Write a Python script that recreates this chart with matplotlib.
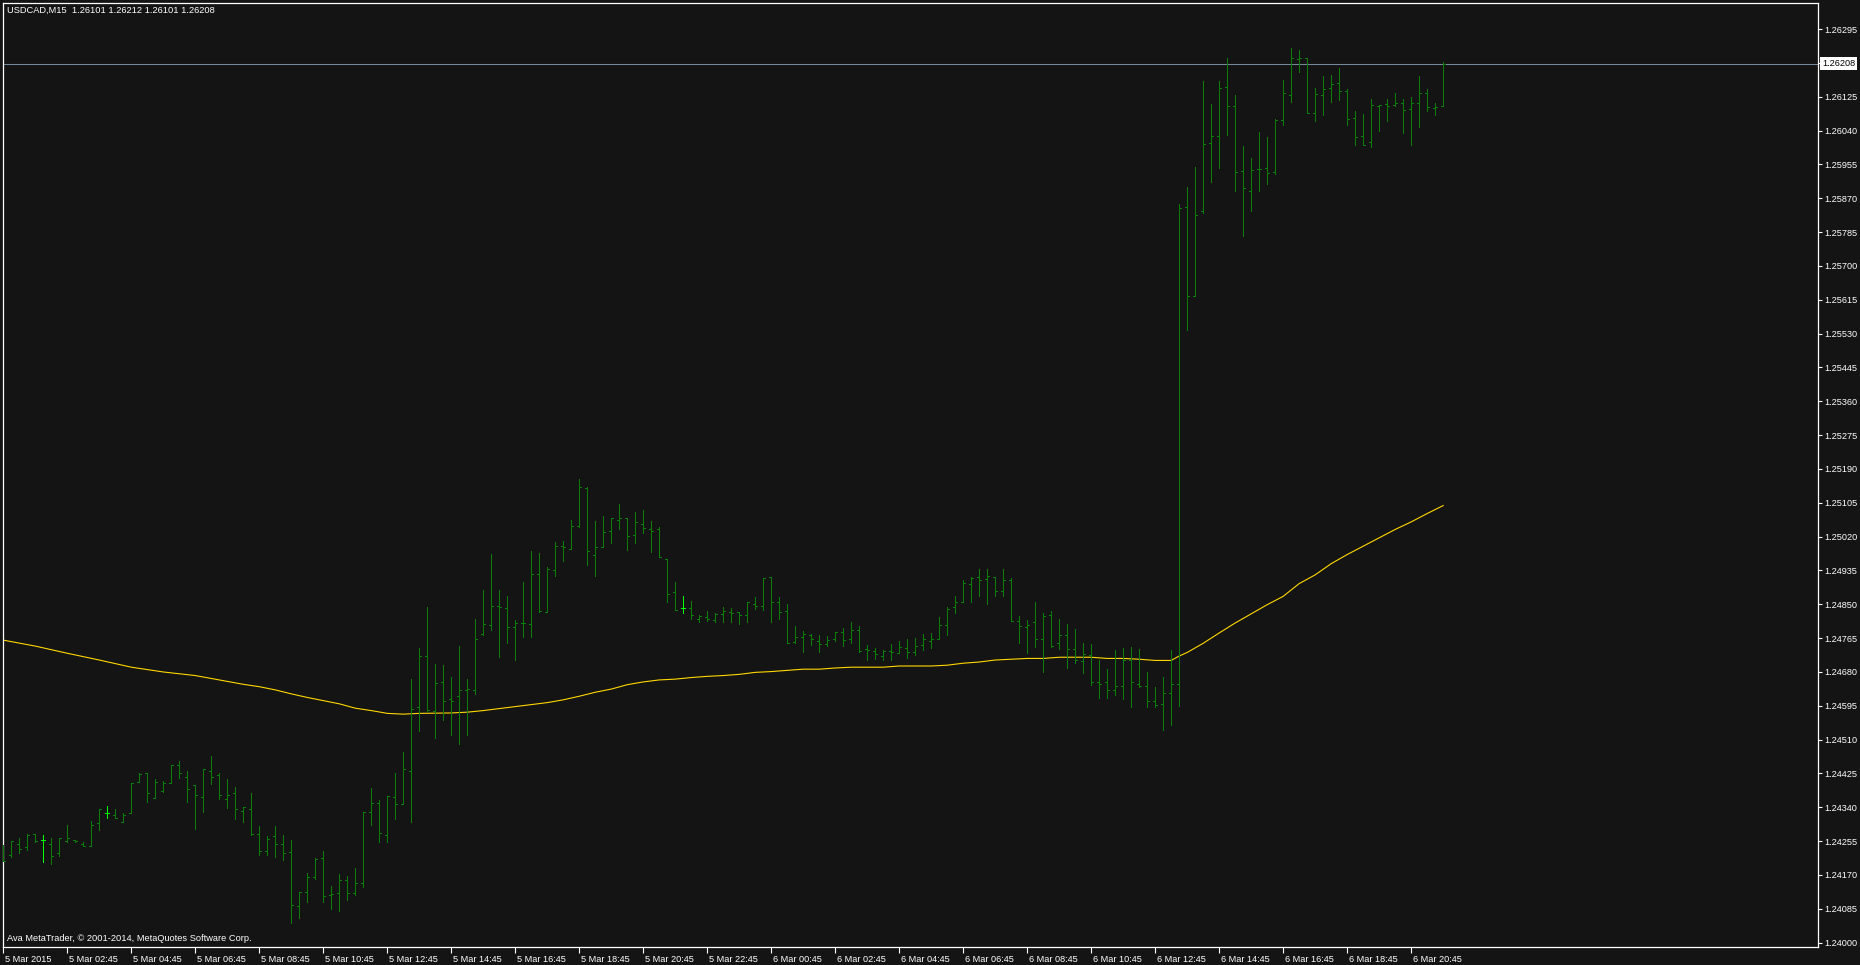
# USDCAD M15 bar chart, MetaTrader look
import numpy as np
import pandas as pd
import matplotlib
matplotlib.use('Agg')
import matplotlib.pyplot as plt
from matplotlib.transforms import blended_transform_factory, ScaledTranslation

plt.rcParams['font.family'] = ['Liberation Sans', 'DejaVu Sans']

# ---- data ----
opens = [
    1.24241, 1.24220, 1.24249, 1.24239, 1.24274, 1.24259, 1.24249, 1.24224, 1.24255, 1.24259,
    1.24249, 1.24244, 1.24300, 1.24326, 1.24321, 1.24304, 1.24325, 1.24404, 1.24427, 1.24364,
    1.24381, 1.24400, 1.24446, 1.24417, 1.24396, 1.24365, 1.24431, 1.24421, 1.24361, 1.24375,
    1.24331, 1.24336, 1.24272, 1.24229, 1.24268, 1.24247, 1.24227, 1.24091, 1.24127, 1.24166,
    1.24212, 1.24120, 1.24124, 1.24157, 1.24124, 1.24149, 1.24328, 1.24350, 1.24270, 1.24365,
    1.24348, 1.24430, 1.24592, 1.24720, 1.24582, 1.24655, 1.24612, 1.24619, 1.24634, 1.24634,
    1.24775, 1.24798, 1.24845, 1.24840, 1.24793, 1.24802, 1.24800, 1.24926, 1.24830, 1.24936,
    1.24996, 1.24990, 1.25046, 1.25142, 1.24974, 1.24994, 1.25033, 1.25063, 1.25066, 1.25023,
    1.25053, 1.25038, 1.25038, 1.24963, 1.24880, 1.24840, 1.24840, 1.24812, 1.24817, 1.24810,
    1.24825, 1.24830, 1.24830, 1.24822, 1.24852, 1.24845, 1.24918, 1.24855, 1.24832, 1.24756,
    1.24767, 1.24772, 1.24758, 1.24750, 1.24762, 1.24780, 1.24763, 1.24786, 1.24738, 1.24733,
    1.24720, 1.24732, 1.24727, 1.24740, 1.24730, 1.24747, 1.24757, 1.24762, 1.24798, 1.24843,
    1.24855, 1.24901, 1.24918, 1.24913, 1.24918, 1.24883, 1.24912, 1.24808, 1.24792, 1.24805,
    1.24762, 1.24822, 1.24752, 1.24772, 1.24737, 1.24707, 1.24723, 1.24656, 1.24654, 1.24634,
    1.24644, 1.24709, 1.24651, 1.24646, 1.24606, 1.24599, 1.24626, 1.24651, 1.25848, 1.25624,
    1.25838, 1.26008, 1.26026, 1.26149, 1.26101, 1.25938, 1.25888, 1.25944, 1.25946, 1.25936,
    1.26066, 1.26129, 1.26219, 1.26222, 1.26084, 1.26129, 1.26147, 1.26159, 1.26139, 1.26071,
    1.26026, 1.26011, 1.26101, 1.26106, 1.26104, 1.26109, 1.26094, 1.26109, 1.26134, 1.26096,
    1.26101,
]
highs = [
    1.24245, 1.24255, 1.24264, 1.24274, 1.24274, 1.24270, 1.24264, 1.24264, 1.24295, 1.24259,
    1.24254, 1.24305, 1.24335, 1.24342, 1.24335, 1.24325, 1.24400, 1.24427, 1.24427, 1.24410,
    1.24406, 1.24446, 1.24456, 1.24431, 1.24396, 1.24435, 1.24469, 1.24425, 1.24411, 1.24390,
    1.24341, 1.24375, 1.24293, 1.24268, 1.24293, 1.24271, 1.24258, 1.24127, 1.24176, 1.24212,
    1.24230, 1.24142, 1.24173, 1.24168, 1.24188, 1.24328, 1.24389, 1.24359, 1.24369, 1.24425,
    1.24480, 1.24663, 1.24740, 1.24844, 1.24700, 1.24697, 1.24668, 1.24746, 1.24663, 1.24814,
    1.24887, 1.24977, 1.24887, 1.24871, 1.24811, 1.24907, 1.24984, 1.24979, 1.24944, 1.25007,
    1.25010, 1.25062, 1.25165, 1.25145, 1.25060, 1.25072, 1.25066, 1.25102, 1.25066, 1.25081,
    1.25087, 1.25059, 1.25043, 1.24963, 1.24906, 1.24871, 1.24858, 1.24823, 1.24832, 1.24827,
    1.24843, 1.24841, 1.24830, 1.24855, 1.24868, 1.24916, 1.24918, 1.24868, 1.24851, 1.24795,
    1.24783, 1.24775, 1.24773, 1.24771, 1.24780, 1.24791, 1.24806, 1.24796, 1.24748, 1.24740,
    1.24736, 1.24751, 1.24758, 1.24763, 1.24766, 1.24776, 1.24778, 1.24819, 1.24844, 1.24871,
    1.24912, 1.24919, 1.24939, 1.24939, 1.24919, 1.24939, 1.24917, 1.24821, 1.24811, 1.24856,
    1.24828, 1.24833, 1.24813, 1.24800, 1.24787, 1.24753, 1.24750, 1.24710, 1.24687, 1.24735,
    1.24739, 1.24743, 1.24738, 1.24680, 1.24642, 1.24667, 1.24735, 1.25856, 1.25899, 1.25949,
    1.26165, 1.26107, 1.26165, 1.26223, 1.26130, 1.26002, 1.25972, 1.26037, 1.26024, 1.26070,
    1.26168, 1.26248, 1.26243, 1.26222, 1.26147, 1.26178, 1.26180, 1.26198, 1.26145, 1.26090,
    1.26082, 1.26119, 1.26105, 1.26119, 1.26135, 1.26119, 1.26124, 1.26178, 1.26144, 1.26109,
    1.26212,
]
lows = [
    1.24204, 1.24214, 1.24224, 1.24233, 1.24254, 1.24203, 1.24197, 1.24218, 1.24254, 1.24254,
    1.24244, 1.24244, 1.24283, 1.24314, 1.24314, 1.24304, 1.24325, 1.24404, 1.24354, 1.24364,
    1.24379, 1.24400, 1.24414, 1.24354, 1.24285, 1.24329, 1.24399, 1.24360, 1.24339, 1.24310,
    1.24304, 1.24271, 1.24219, 1.24219, 1.24214, 1.24208, 1.24050, 1.24063, 1.24101, 1.24161,
    1.24103, 1.24085, 1.24080, 1.24107, 1.24120, 1.24141, 1.24296, 1.24253, 1.24254, 1.24311,
    1.24348, 1.24303, 1.24531, 1.24583, 1.24515, 1.24560, 1.24521, 1.24500, 1.24522, 1.24624,
    1.24772, 1.24786, 1.24717, 1.24752, 1.24711, 1.24769, 1.24769, 1.24830, 1.24830, 1.24922,
    1.24958, 1.24988, 1.25043, 1.24948, 1.24922, 1.24994, 1.25003, 1.25040, 1.24986, 1.25005,
    1.25030, 1.24982, 1.24968, 1.24857, 1.24835, 1.24829, 1.24814, 1.24805, 1.24807, 1.24806,
    1.24806, 1.24806, 1.24801, 1.24806, 1.24838, 1.24836, 1.24806, 1.24814, 1.24752, 1.24752,
    1.24731, 1.24749, 1.24731, 1.24746, 1.24757, 1.24744, 1.24754, 1.24729, 1.24711, 1.24712,
    1.24709, 1.24711, 1.24727, 1.24715, 1.24723, 1.24736, 1.24741, 1.24762, 1.24772, 1.24827,
    1.24855, 1.24855, 1.24870, 1.24852, 1.24872, 1.24870, 1.24808, 1.24754, 1.24727, 1.24743,
    1.24681, 1.24743, 1.24737, 1.24691, 1.24703, 1.24678, 1.24647, 1.24615, 1.24614, 1.24622,
    1.24611, 1.24593, 1.24643, 1.24593, 1.24593, 1.24535, 1.24548, 1.24595, 1.25540, 1.25624,
    1.25832, 1.25912, 1.25945, 1.26030, 1.25889, 1.25776, 1.25839, 1.25889, 1.25906, 1.25930,
    1.26053, 1.26113, 1.26188, 1.26084, 1.26065, 1.26080, 1.26111, 1.26116, 1.26053, 1.26005,
    1.26003, 1.26000, 1.26038, 1.26065, 1.26101, 1.26035, 1.26005, 1.26048, 1.26090, 1.26080,
    1.26101,
]
closes = [
    1.24204, 1.24255, 1.24235, 1.24270, 1.24255, 1.24259, 1.24218, 1.24264, 1.24263, 1.24255,
    1.24244, 1.24295, 1.24335, 1.24326, 1.24314, 1.24321, 1.24400, 1.24423, 1.24375, 1.24404,
    1.24400, 1.24446, 1.24425, 1.24385, 1.24371, 1.24435, 1.24415, 1.24371, 1.24371, 1.24336,
    1.24341, 1.24272, 1.24229, 1.24260, 1.24247, 1.24225, 1.24094, 1.24127, 1.24166, 1.24209,
    1.24116, 1.24122, 1.24157, 1.24124, 1.24149, 1.24328, 1.24350, 1.24275, 1.24368, 1.24348,
    1.24436, 1.24587, 1.24720, 1.24585, 1.24652, 1.24608, 1.24608, 1.24634, 1.24637, 1.24763,
    1.24800, 1.24845, 1.24844, 1.24793, 1.24803, 1.24803, 1.24926, 1.24833, 1.24939, 1.24996,
    1.24994, 1.25046, 1.25145, 1.24984, 1.24994, 1.25031, 1.25066, 1.25068, 1.25021, 1.25056,
    1.25041, 1.25033, 1.24968, 1.24877, 1.24835, 1.24840, 1.24822, 1.24820, 1.24812, 1.24825,
    1.24832, 1.24827, 1.24822, 1.24855, 1.24845, 1.24915, 1.24855, 1.24830, 1.24754, 1.24767,
    1.24775, 1.24762, 1.24750, 1.24761, 1.24780, 1.24761, 1.24786, 1.24733, 1.24736, 1.24725,
    1.24732, 1.24730, 1.24742, 1.24730, 1.24746, 1.24763, 1.24763, 1.24798, 1.24838, 1.24856,
    1.24903, 1.24916, 1.24911, 1.24921, 1.24883, 1.24911, 1.24808, 1.24795, 1.24798, 1.24762,
    1.24820, 1.24744, 1.24774, 1.24737, 1.24709, 1.24724, 1.24654, 1.24651, 1.24634, 1.24644,
    1.24709, 1.24656, 1.24644, 1.24606, 1.24596, 1.24626, 1.24651, 1.25845, 1.25624, 1.25828,
    1.26006, 1.26026, 1.26147, 1.26101, 1.25936, 1.25895, 1.25941, 1.25943, 1.25933, 1.26066,
    1.26134, 1.26222, 1.26222, 1.26084, 1.26131, 1.26144, 1.26157, 1.26139, 1.26069, 1.26023,
    1.26003, 1.26104, 1.26104, 1.26101, 1.26109, 1.26091, 1.26109, 1.26134, 1.26099, 1.26099,
    1.26208,
]

# moving average, read at selected bars
ma_bars = [0, 4, 8, 12, 16, 20, 24, 27, 30, 32, 34, 36, 38, 40, 42, 44, 46, 48, 50, 52,
           56, 58, 60, 62, 64, 66, 68, 70, 72, 74, 76, 78, 80, 82, 84, 86, 88, 90, 92, 94,
           96, 98, 100, 102, 104, 106, 110, 112, 116, 118, 120, 122, 124, 126, 128, 130, 132,
           136, 138, 140, 142, 144, 146, 147, 148, 150, 152, 154, 156, 158, 160, 162, 164,
           166, 168, 170, 172, 174, 176, 178, 180]
ma_vals = [1.24760, 1.24745, 1.24727, 1.24710, 1.24692, 1.24680, 1.24671, 1.24660, 1.24649,
           1.24643, 1.24635, 1.24625, 1.24616, 1.24608, 1.24600, 1.24589, 1.24583, 1.24576,
           1.24574, 1.24576, 1.24577, 1.24579, 1.24583, 1.24588, 1.24593, 1.24598, 1.24603,
           1.24610, 1.24619, 1.24629, 1.24637, 1.24648, 1.24655, 1.24660, 1.24662, 1.24666,
           1.24669, 1.24671, 1.24674, 1.24679, 1.24681, 1.24684, 1.24687, 1.24687, 1.24690,
           1.24692, 1.24692, 1.24695, 1.24695, 1.24697, 1.24702, 1.24705, 1.24710, 1.24712,
           1.24714, 1.24714, 1.24717, 1.24717, 1.24714, 1.24714, 1.24712, 1.24709, 1.24709,
           1.24720, 1.24729, 1.24752, 1.24778, 1.24803, 1.24826, 1.24849, 1.24870, 1.24902,
           1.24924, 1.24952, 1.24975, 1.24996, 1.25017, 1.25038, 1.25057, 1.25078, 1.25098]

price_levels = [1.26295, 1.26210, 1.26125, 1.26040, 1.25955, 1.25870, 1.25785, 1.25700,
                1.25615, 1.25530, 1.25445, 1.25360, 1.25275, 1.25190, 1.25105, 1.25020,
                1.24935, 1.24850, 1.24765, 1.24680, 1.24595, 1.24510, 1.24425, 1.24340,
                1.24255, 1.24170, 1.24085, 1.24000]

time_labels = ['5 Mar 2015', '5 Mar 02:45', '5 Mar 04:45', '5 Mar 06:45', '5 Mar 08:45',
               '5 Mar 10:45', '5 Mar 12:45', '5 Mar 14:45', '5 Mar 16:45', '5 Mar 18:45',
               '5 Mar 20:45', '5 Mar 22:45', '6 Mar 00:45', '6 Mar 02:45', '6 Mar 04:45',
               '6 Mar 06:45', '6 Mar 08:45', '6 Mar 10:45', '6 Mar 12:45', '6 Mar 14:45',
               '6 Mar 16:45', '6 Mar 18:45', '6 Mar 20:45']

symbol = 'USDCAD,M15'
bid = 1.26208

# ---- colours ----
bg = '#141414'
bar_col = '#0b7d0b'
doji_col = '#00ff00'
ma_col = '#ffd700'
bid_col = '#778899'
fg = 'white'

times = pd.date_range('2015-03-05 00:45', periods=len(opens), freq='15min')
x = np.arange(len(opens))
o = np.array(opens)
h = np.array(highs)
l = np.array(lows)
c = np.array(closes)

fig = plt.figure(figsize=(18.6, 9.65), dpi=100, facecolor=bg)
ax = fig.add_axes([2.5 / 1860, 1 - 947 / 965, 1815 / 1860, 944.5 / 965])
ax.set_facecolor(bg)
ax.set_xlim(-0.1, 226.8)
ax.set_ylim(1.23989, 1.26362)

# bars: 1px lines, open tick left, close tick right
colors = [doji_col if oo == cc else bar_col for oo, cc in zip(o, c)]
ax.vlines(x, l, h, colors=colors, lw=0.7, antialiased=False, zorder=3)
ax.hlines(o, x - 0.27, x, colors=colors, lw=0.7, antialiased=False, zorder=3)
ax.hlines(c, x, x + 0.27, colors=colors, lw=0.7, antialiased=False, zorder=3)

# moving average
ax.plot(ma_bars, ma_vals, color=ma_col, lw=0.8, zorder=2)

# bid line
ax.axhline(bid, color=bid_col, lw=0.75, zorder=1)

# frame
for s in ax.spines.values():
    s.set_color(fg)
    s.set_linewidth(0.9)

# right price scale
ax.yaxis.tick_right()
ax.set_yticks(price_levels)
ax.set_yticklabels([f'{v:.5f}' for v in price_levels])
ax.tick_params(axis='y', direction='out', length=3, width=0.8, pad=2,
               colors=fg, labelsize=6.6)

# time scale, labels start at the tick
tick_pos = [times.get_loc(t) for t in pd.date_range('2015-03-05 00:45', periods=len(time_labels), freq='2h')]
ax.set_xticks(tick_pos)
ax.set_xticklabels(time_labels)
ax.tick_params(axis='x', direction='out', length=4, width=0.8, pad=1.5,
               colors=fg, labelsize=6.6)
shift = ScaledTranslation(2 / 100, 0, fig.dpi_scale_trans)
for lab in ax.get_xticklabels():
    lab.set_horizontalalignment('left')
    lab.set_transform(lab.get_transform() + shift)

# current price box
trans = blended_transform_factory(ax.transAxes, ax.transData)
ax.text(1.0025, bid, f'{bid:.5f}', transform=trans, ha='left', va='center',
        fontsize=6.6, color='black', clip_on=False, zorder=5,
        bbox=dict(facecolor='white', edgecolor='none', pad=1.6))

# header and footer
ax.text(0.0025, 0.9913,
        f'{symbol}  {opens[-1]:.5f} {highs[-1]:.5f} {lows[-1]:.5f} {closes[-1]:.5f}',
        transform=ax.transAxes, ha='left', va='center', fontsize=6.7, color=fg)
ax.text(0.0025, 0.0085, 'Ava MetaTrader, \u00a9 2001-2014, MetaQuotes Software Corp.',
        transform=ax.transAxes, ha='left', va='center', fontsize=6.7, color=fg)

fig.savefig('out.png', dpi=100, facecolor=bg)
